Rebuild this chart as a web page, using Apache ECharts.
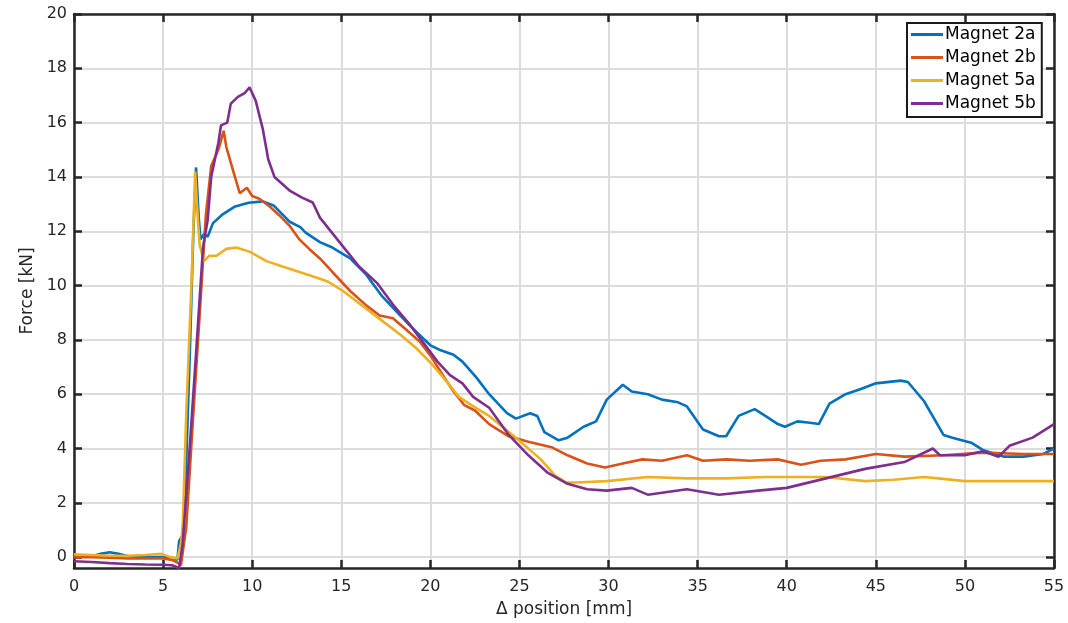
<!DOCTYPE html>
<html>
<head>
<meta charset="utf-8">
<script src="https://cdn.jsdelivr.net/npm/echarts@6/dist/echarts.min.js"></script>
<style>
  html, body { margin: 0; padding: 0; background: #fff; }
  #chart { width: 1068px; height: 623px; }
</style>
</head>
<body>
<div id="chart"></div>
<script>
// force vs displacement: [position mm, force kN]
const seriesNames = ["Magnet 2a", "Magnet 2b", "Magnet 5a", "Magnet 5b"];
const colors = ["#0072BD", "#D95319", "#EDB120", "#7E2F8E"];
const yTicks = [0, 2, 4, 6, 8, 10, 12, 14, 16, 18, 20];

const magnet2a = [
  [0, 0.02], [1, 0.03], [1.5, 0.12], [2, 0.18], [2.5, 0.12], [3, 0.04], [4, 0.0], [5, 0.0],
  [5.6, -0.05], [5.8, -0.1], [5.9, 0.6], [6.1, 0.8], [6.3, 3.5], [6.5, 7.5], [6.7, 12.0],
  [6.85, 14.35], [7.0, 12.5], [7.1, 11.7], [7.3, 11.9], [7.5, 11.8], [7.8, 12.3], [8.3, 12.6],
  [9.0, 12.9], [9.8, 13.05], [10.6, 13.1], [11.2, 12.95], [12.1, 12.35], [12.7, 12.15],
  [13.0, 11.95], [13.8, 11.6], [14.5, 11.4], [15.5, 11.0], [16.4, 10.4], [17.3, 9.6],
  [18.3, 8.9], [19.2, 8.3], [20.0, 7.8], [20.5, 7.64], [21.3, 7.45], [21.8, 7.2], [22.6, 6.6],
  [23.3, 6.0], [24.3, 5.3], [24.8, 5.1], [25.6, 5.3], [26.0, 5.2], [26.4, 4.6], [27.2, 4.3],
  [27.7, 4.4], [28.6, 4.8], [29.3, 5.0], [29.9, 5.8], [30.8, 6.35], [31.3, 6.1], [32.2, 6.0],
  [33.0, 5.8], [33.9, 5.7], [34.4, 5.55], [35.3, 4.7], [36.2, 4.45], [36.6, 4.45], [37.3, 5.2],
  [38.2, 5.45], [38.8, 5.2], [39.5, 4.9], [39.9, 4.8], [40.6, 5.0], [41.3, 4.95], [41.8, 4.9],
  [42.4, 5.65], [43.3, 6.0], [44.2, 6.2], [45.0, 6.4], [46.4, 6.5], [46.8, 6.45], [47.7, 5.75],
  [48.8, 4.5], [49.3, 4.4], [50.4, 4.2], [51.0, 3.95], [52.2, 3.7], [53.3, 3.7], [54.4, 3.8],
  [55, 4.0]
];

const magnet2b = [
  [0, 0.0], [1, 0.0], [2, -0.02], [3, -0.05], [4, -0.05], [5, -0.05], [5.5, -0.1], [5.8, -0.2],
  [6.0, -0.3], [6.3, 1.1], [6.7, 5.3], [7.05, 8.9], [7.4, 12.6], [7.7, 14.4], [8.1, 15.0],
  [8.4, 15.7], [8.55, 15.1], [8.9, 14.3], [9.3, 13.4], [9.7, 13.6], [10.0, 13.3], [10.4, 13.2],
  [11.0, 12.9], [11.5, 12.6], [12.1, 12.2], [12.65, 11.7], [13.2, 11.35], [13.8, 11.0],
  [14.5, 10.5], [15.5, 9.8], [16.4, 9.27], [17.15, 8.9], [17.9, 8.8], [18.6, 8.4], [19.4, 7.94],
  [20.1, 7.33], [20.7, 6.7], [21.3, 6.1], [21.9, 5.6], [22.5, 5.4], [23.3, 4.9], [24.4, 4.45],
  [25.5, 4.25], [26.8, 4.05], [27.7, 3.75], [28.8, 3.45], [29.8, 3.3], [30.8, 3.45], [31.9, 3.6],
  [33.0, 3.55], [34.4, 3.75], [35.3, 3.55], [36.6, 3.6], [37.9, 3.55], [39.5, 3.6], [40.8, 3.4],
  [41.9, 3.55], [43.3, 3.6], [45.0, 3.8], [46.6, 3.7], [48.8, 3.75], [51.0, 3.85], [53.3, 3.8],
  [55, 3.8]
];

const magnet5a = [
  [0, 0.1], [1, 0.08], [2, 0.05], [3, 0.05], [4, 0.08], [4.9, 0.12], [5.4, 0.0], [5.8, -0.05],
  [6.0, 0.5], [6.1, 1.1], [6.3, 5.3], [6.6, 10.2], [6.8, 14.2], [6.9, 13.0], [7.05, 11.5],
  [7.3, 10.9], [7.6, 11.1], [8.0, 11.1], [8.55, 11.35], [9.1, 11.4], [9.85, 11.25], [10.8, 10.9],
  [11.7, 10.7], [12.65, 10.5], [13.6, 10.3], [14.3, 10.13], [15.1, 9.8], [15.8, 9.45],
  [16.4, 9.15], [17.3, 8.7], [18.3, 8.2], [19.2, 7.7], [20.1, 7.1], [21.0, 6.4], [21.6, 5.9],
  [22.3, 5.6], [23.3, 5.2], [24.8, 4.4], [26.2, 3.6], [27.0, 3.0], [27.6, 2.75], [28.2, 2.75],
  [29.9, 2.8], [32.2, 2.95], [34.4, 2.9], [36.6, 2.9], [38.8, 2.95], [42.2, 2.95], [44.4, 2.8],
  [46.0, 2.85], [47.7, 2.95], [48.5, 2.9], [50.0, 2.8], [52.2, 2.8], [55, 2.8]
];

const magnet5b = [
  [0, -0.15], [1, -0.18], [2, -0.22], [3, -0.25], [4, -0.27], [5, -0.28], [5.5, -0.3],
  [5.9, -0.4], [6.1, 0.5], [6.5, 4.1], [6.87, 7.7], [7.24, 11.4], [7.5, 12.4], [7.7, 14.0],
  [8.1, 15.25], [8.25, 15.9], [8.6, 16.0], [8.8, 16.7], [9.2, 16.95], [9.6, 17.1], [9.85, 17.3],
  [10.2, 16.8], [10.6, 15.75], [10.9, 14.65], [11.25, 14.0], [12.1, 13.5], [12.8, 13.24],
  [13.4, 13.06], [13.8, 12.5], [14.9, 11.6], [16.0, 10.7], [17.0, 10.1], [17.9, 9.3],
  [18.8, 8.6], [19.6, 7.9], [20.4, 7.2], [21.1, 6.7], [21.8, 6.4], [22.4, 5.9], [23.3, 5.5],
  [24.4, 4.5], [25.5, 3.75], [26.6, 3.1], [27.7, 2.7], [28.8, 2.5], [29.9, 2.45], [31.3, 2.55],
  [32.2, 2.3], [34.4, 2.5], [36.2, 2.3], [38.4, 2.45], [40.0, 2.55], [42.2, 2.9], [44.4, 3.25],
  [46.6, 3.5], [48.2, 4.0], [48.6, 3.75], [50.0, 3.75], [51.0, 3.9], [51.9, 3.7], [52.5, 4.1],
  [53.8, 4.4], [55, 4.9]
];

const allData = [magnet2a, magnet2b, magnet5a, magnet5b];

const axisColor = "#262626";
const font = "'DejaVu Sans', sans-serif";
const labelStyle = { color: axisColor, fontSize: 16, fontFamily: font };
const nameStyle = { color: axisColor, fontSize: 17, fontFamily: font };

const chart = echarts.init(document.getElementById("chart"));

function yAxisCfg(pos, withLabels) {
  return {
    type: "value",
    position: pos,
    min: -0.4,
    max: 20,
    name: withLabels ? "Force [kN]" : "",
    nameLocation: "middle",
    nameGap: 33,
    nameTextStyle: nameStyle,
    axisLine: { show: true, onZero: false, lineStyle: { color: axisColor, width: 2.5 } },
    axisTick: { show: true, inside: true, length: 8, customValues: yTicks, lineStyle: { color: axisColor, width: 2.5 } },
    axisLabel: { show: withLabels, customValues: yTicks, margin: 7, ...labelStyle },
    splitLine: { show: withLabels, lineStyle: { color: "#dcdcdc", width: 2 } }
  };
}

function xAxisCfg(pos, withLabels) {
  return {
    type: "value",
    position: pos,
    min: 0,
    max: 55,
    interval: 5,
    name: withLabels ? "\u0394 position [mm]" : "",
    nameLocation: "middle",
    nameGap: 33,
    nameTextStyle: nameStyle,
    axisLine: { show: true, onZero: false, lineStyle: { color: axisColor, width: 2.5 } },
    axisTick: { show: true, inside: true, length: 8, lineStyle: { color: axisColor, width: 2.5 } },
    axisLabel: { show: withLabels, margin: 11, ...labelStyle },
    splitLine: { show: withLabels, lineStyle: { color: "#dcdcdc", width: 2 } }
  };
}

chart.setOption({
  animation: false,
  backgroundColor: "#fff",
  grid: { left: 74, top: 14, right: 14, bottom: 52, containLabel: false },
  xAxis: [xAxisCfg("bottom", true), xAxisCfg("top", false)],
  yAxis: [yAxisCfg("left", true), yAxisCfg("right", false)],
  legend: {
    left: 907,
    top: 23,
    orient: "vertical",
    backgroundColor: "#fff",
    borderColor: "#1a1a1a",
    borderWidth: 2,
    borderRadius: 0,
    padding: [3, 6, 5, 4],
    icon: "rect",
    itemWidth: 32,
    itemHeight: 3,
    itemGap: 6,
    textStyle: { color: "#000", fontSize: 17, fontFamily: font, padding: [0, 0, 0, -3] },
    data: seriesNames
  },
  series: seriesNames.map((name, i) => ({
    name,
    type: "line",
    data: allData[i],
    symbol: "none",
    color: colors[i],
    lineStyle: { width: 2.6, color: colors[i] },
    xAxisIndex: 0,
    yAxisIndex: 0
  }))
});
</script>
</body>
</html>
